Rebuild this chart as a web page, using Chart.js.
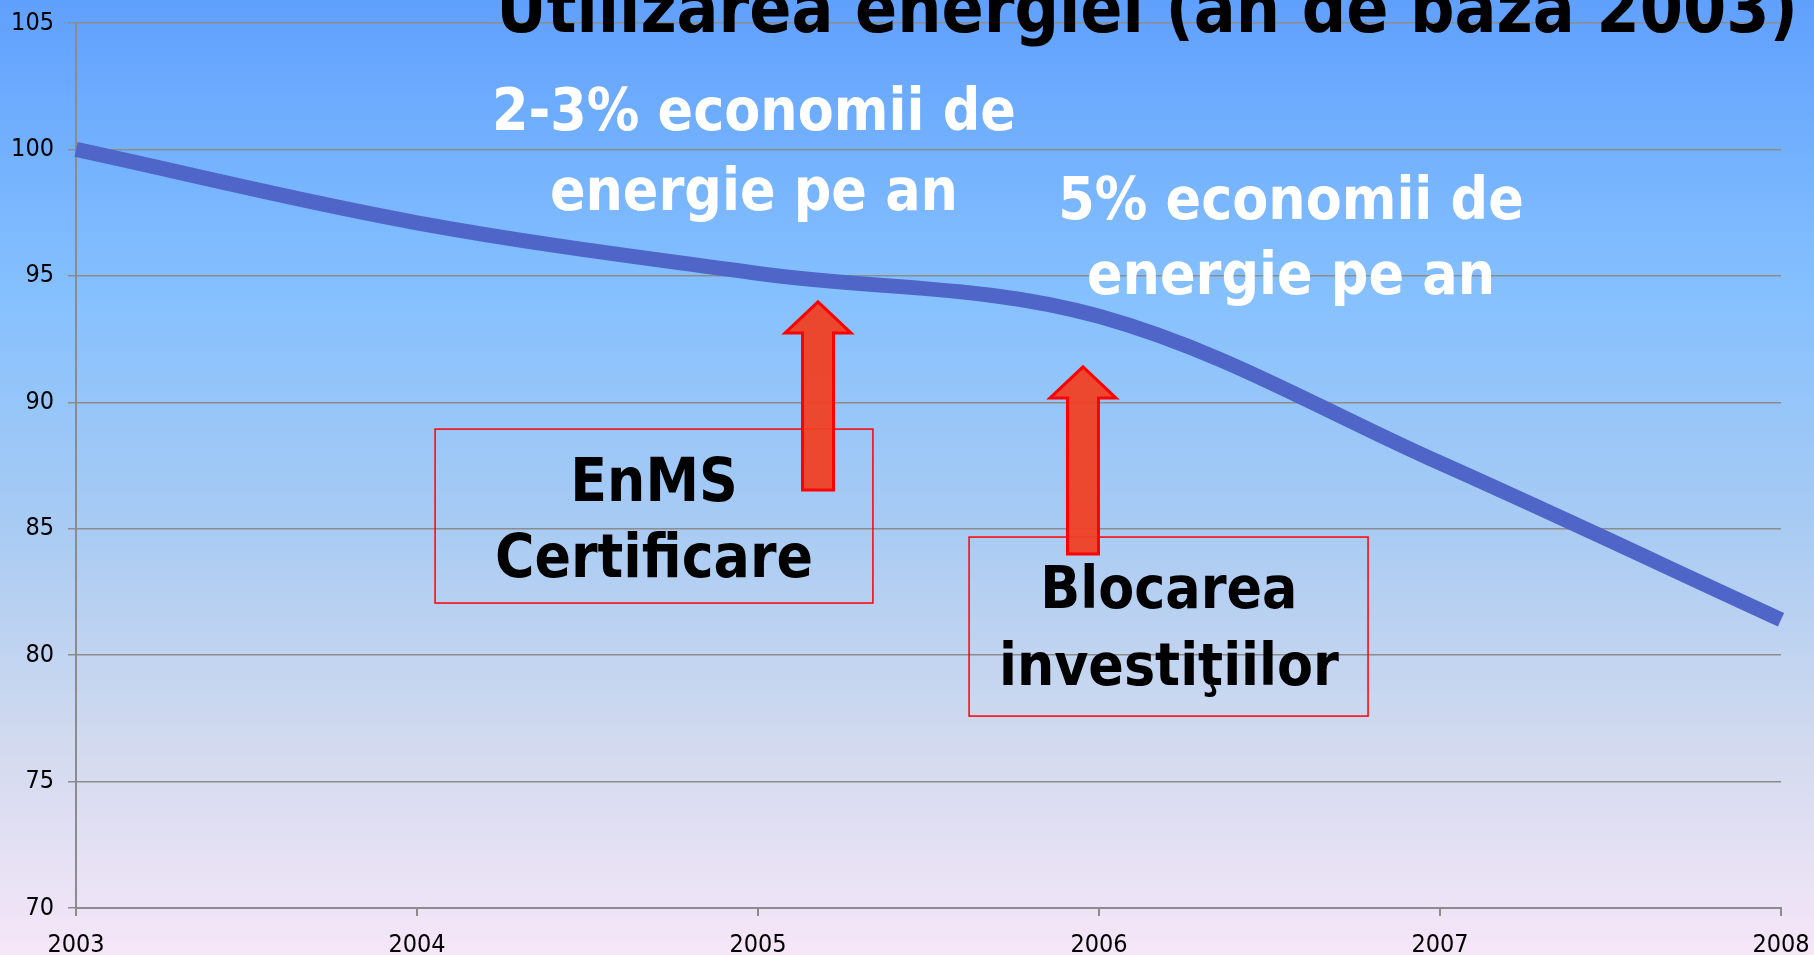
<!DOCTYPE html>
<html>
<head>
<meta charset="utf-8">
<script src="https://cdn.jsdelivr.net/npm/chart.js@4.4.1/dist/chart.umd.min.js"></script>
<style>
  html, body { margin: 0; padding: 0; }
  canvas { display: block; }
</style>
</head>
<body>
<canvas id="energyChart" width="1814" height="955"></canvas>
<script>
// chart data
const years = ['2003', '2004', '2005', '2006', '2007', '2008'];
const energyUse = [100, 97.1, 95.1, 93.4, 87.6, 81.4];
const yMin = 70;
const yMax = 105;
const yStep = 5;

// slide texts
const titleText = 'Utilizarea energiei (an de bază 2003)';
const savingsLow = ['2-3% economii de', 'energie pe an'];
const savingsHigh = ['5% economii de', 'energie pe an'];
const enmsLabel = ['EnMS', 'Certificare'];
const blockLabel = ['Blocarea', 'investiţiilor'];

const FONT = '"DejaVu Sans Condensed", "DejaVu Sans", sans-serif';
const GRID = '#8c8c8c';

// font size that makes `text` span `width` px
function fitSize(ctx, text, width) {
  ctx.font = 'bold 100px ' + FONT;
  return 100 * width / ctx.measureText(text).width;
}

function drawLines(ctx, lines, cx, baselines, size, color) {
  ctx.font = 'bold ' + size + 'px ' + FONT;
  ctx.fillStyle = color;
  ctx.textAlign = 'center';
  ctx.textBaseline = 'alphabetic';
  lines.forEach((t, i) => ctx.fillText(t, cx, baselines[i]));
}

function drawArrow(ctx, cx, tipY, baseY, bottomY) {
  const head = 33, shaft = 15.5;
  ctx.beginPath();
  ctx.moveTo(cx, tipY);
  ctx.lineTo(cx + head, baseY);
  ctx.lineTo(cx + shaft, baseY);
  ctx.lineTo(cx + shaft, bottomY);
  ctx.lineTo(cx - shaft, bottomY);
  ctx.lineTo(cx - shaft, baseY);
  ctx.lineTo(cx - head, baseY);
  ctx.closePath();
  ctx.fillStyle = 'rgba(240, 64, 36, 0.95)';
  ctx.fill();
  ctx.lineWidth = 3;
  ctx.lineJoin = 'miter';
  ctx.strokeStyle = '#ff0000';
  ctx.stroke();
}

const slideBackground = {
  id: 'slideBackground',
  beforeDraw(chart) {
    const { ctx, width, height } = chart;
    const g = ctx.createLinearGradient(0, 0, 0, height);
    g.addColorStop(0, '#60a0fd');
    g.addColorStop(0.3, '#84c0ff');
    g.addColorStop(0.55, '#a8cbf3');
    g.addColorStop(0.78, '#d2daef');
    g.addColorStop(1, '#f6e6f8');
    ctx.save();
    ctx.fillStyle = g;
    ctx.fillRect(0, 0, width, height);
    ctx.restore();
  }
};

// title, notes, boxes and arrows, placed in data units
const slideOverlay = {
  id: 'slideOverlay',
  afterDraw(chart) {
    const { ctx } = chart;
    const x = v => chart.scales.x.getPixelForValue(v);
    const y = v => chart.scales.y.getPixelForValue(v);
    ctx.save();

    // title (top is cut off by the slide edge)
    let s = fitSize(ctx, titleText, 1302);
    drawLines(ctx, [titleText], x(3.141), [y(104.66)], s, '#000');

    // white notes
    s = fitSize(ctx, savingsLow[0], 524);
    drawLines(ctx, savingsLow, x(1.988), [y(100.75), y(97.59)], s, '#fff');
    drawLines(ctx, savingsHigh, x(3.563), [y(97.25), y(94.3)], s, '#fff');

    // boxes
    ctx.strokeStyle = '#ff0000';
    ctx.lineWidth = 1.5;
    ctx.strokeRect(x(1.053), y(88.94), x(2.337) - x(1.053), y(82.06) - y(88.94));
    ctx.strokeRect(x(2.619), y(84.67), x(3.789) - x(2.619), y(77.59) - y(84.67));

    s = fitSize(ctx, enmsLabel[1], 318);
    drawLines(ctx, enmsLabel, x(1.695), [y(86.10), y(83.1)], s, '#000');
    s = fitSize(ctx, blockLabel[1], 340);
    drawLines(ctx, blockLabel, x(3.205), [y(81.86), y(78.82)], s, '#000');

    // arrows
    drawArrow(ctx, x(2.176), y(93.97), y(92.74), y(86.53));
    drawArrow(ctx, x(2.953), y(91.40), y(90.17), y(84.0));

    ctx.restore();
  }
};

new Chart(document.getElementById('energyChart'), {
  type: 'line',
  data: {
    labels: years,
    datasets: [{
      data: energyUse,
      borderColor: '#4f66c8',
      borderWidth: 15,
      borderCapStyle: 'butt',
      tension: 0.35,
      pointRadius: 0,
      fill: false,
    }],
  },
  options: {
    responsive: false,
    animation: false,
    layout: { padding: { top: 23, right: 33, left: 0, bottom: 0 } },
    plugins: { legend: { display: false }, tooltip: { enabled: false } },
    scales: {
      x: {
        grid: { drawOnChartArea: false, color: GRID, lineWidth: 2, tickLength: 8 },
        border: { color: GRID, width: 2 },
        ticks: { color: '#000', font: { family: FONT, size: 25 }, padding: 14, maxRotation: 0, autoSkip: false },
        afterFit(scale) {
          scale.height = 47;
          scale.paddingLeft = 0;
          scale.paddingRight = 0;
        },
      },
      y: {
        min: yMin,
        max: yMax,
        grid: { color: GRID, lineWidth: 1.5, tickLength: 8 },
        border: { color: GRID, width: 2 },
        ticks: { stepSize: yStep, color: '#000', font: { family: FONT, size: 25 }, padding: 14 },
        afterFit(scale) {
          scale.width = 76;
          scale.paddingTop = 0;
          scale.paddingBottom = 0;
        },
      },
    },
  },
  plugins: [slideBackground, slideOverlay],
});
</script>
</body>
</html>
